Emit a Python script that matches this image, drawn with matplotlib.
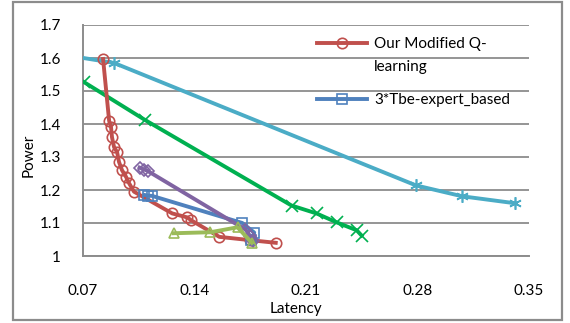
import matplotlib
matplotlib.use("Agg")
import matplotlib.pyplot as plt
from matplotlib.patches import Rectangle

plt.rcParams['font.family'] = ['Lato', 'DejaVu Sans']

# Our Modified Q-learning (red circles)
q_lat = [0.0826, 0.0864, 0.0876, 0.0882, 0.0895, 0.0914, 0.0926, 0.0945, 0.0970,
         0.0990, 0.1020, 0.1260, 0.1354, 0.1380, 0.1556, 0.1750, 0.1910]
q_pow = [1.597, 1.410, 1.390, 1.360, 1.330, 1.315, 1.285, 1.260, 1.240,
         1.220, 1.195, 1.129, 1.117, 1.108, 1.058, 1.048, 1.040]

# 3*Tbe-expert_based (blue squares)
tbe_lat = [0.1085, 0.1110, 0.1135, 0.1700, 0.1775, 0.1757]
tbe_pow = [1.185, 1.183, 1.182, 1.100, 1.071, 1.047]

# purple diamonds
pur_lat = [0.1055, 0.1085, 0.1105, 0.1720, 0.1750, 0.1770]
pur_pow = [1.268, 1.262, 1.258, 1.080, 1.060, 1.045]

# light green triangles
tri_lat = [0.127, 0.150, 0.167, 0.176]
tri_pow = [1.069, 1.072, 1.087, 1.040]

# green crosses
grn_lat = [0.0706, 0.109, 0.2009, 0.2166, 0.2292, 0.2418, 0.2449]
grn_pow = [1.527, 1.412, 1.153, 1.129, 1.102, 1.078, 1.062]

# cyan stars
cyn_lat = [0.060, 0.0895, 0.279, 0.308, 0.341]
cyn_pow = [1.608, 1.585, 1.214, 1.181, 1.160]

x_ticks = [0.07, 0.14, 0.21, 0.28, 0.35]
y_ticks = [1, 1.1, 1.2, 1.3, 1.4, 1.5, 1.6, 1.7]

W, H = 570, 323
fig = plt.figure(figsize=(W / 100, H / 100), dpi=100)
ax = fig.add_axes([83 / W, 1 - 256 / H, (529 - 83) / W, (256 - 25) / H])

lw = 2.8
ms = 7.5
mew = 1.2
star = (6, 2, 0)

ax.plot(cyn_lat, cyn_pow, color='#4BACC6', lw=lw, marker=star, ms=9, mew=mew, zorder=3)
ax.plot(grn_lat, grn_pow, color='#00B050', lw=lw, marker='x', ms=8.5, mew=mew, zorder=4)
red, = ax.plot(q_lat, q_pow, color='#C0504D', lw=lw, marker='o', ms=ms, mew=mew,
               mfc='none', zorder=5)
blue, = ax.plot(tbe_lat, tbe_pow, color='#4F81BD', lw=lw, marker='s', ms=ms, mew=mew,
                mfc='none', zorder=6)
ax.plot(pur_lat, pur_pow, color='#8064A2', lw=lw, marker='D', ms=6.5, mew=mew,
        mfc='none', zorder=7)
ax.plot(tri_lat, tri_pow, color='#9BBB59', lw=lw, marker='^', ms=ms, mew=mew,
        mfc='none', zorder=8)

ax.set_xlim(0.07, 0.35)
ax.set_ylim(1, 1.7)
ax.set_xticks(x_ticks)
ax.set_xticklabels(['%.2f' % v for v in x_ticks])
ax.set_yticks(y_ticks)
ax.set_yticklabels(['%g' % v for v in y_ticks])
ax.tick_params(length=0, labelsize=11, colors='black')
ax.tick_params(axis='x', pad=20)
ax.tick_params(axis='y', pad=16)

grid_c = '#8C8C8C'
ax.grid(axis='y', color=grid_c, lw=1.3)
ax.set_axisbelow(True)
for s in ['top', 'right']:
    ax.spines[s].set_visible(False)
for s in ['left', 'bottom']:
    ax.spines[s].set_color(grid_c)
    ax.spines[s].set_linewidth(1.4)
ax.set_facecolor('none')

ax.set_xlabel('Latency', fontsize=11)
ax.xaxis.set_label_coords((296 - 83) / (529 - 83), (256 - 309) / (256 - 25))
ax.xaxis.label.set_va('center')
ax.set_ylabel('Power', fontsize=11)
ax.yaxis.set_label_coords((29 - 83) / (529 - 83), (256 - 155) / (256 - 25))
ax.yaxis.label.set_va('center')

leg = ax.legend([red, blue], ['Our Modified Q-', '3*Tbe-expert_based'],
                loc='upper left', bbox_to_anchor=(317 / W, 1 - 37 / H),
                bbox_transform=fig.transFigure, frameon=False, fontsize=11,
                borderpad=0, borderaxespad=0, handlelength=3.3,
                handletextpad=0.45, labelspacing=2.75)

# second line of the first legend label
fig.canvas.draw()
bb = leg.get_texts()[0].get_window_extent()
fig.text(bb.x0 / W, (bb.y0 - 23) / H, 'learning', fontsize=11,
         ha='left', va='bottom')

fig.patches.append(Rectangle((13 / W, 1 - 320 / H), (562 - 13) / W, (320 - 2) / H,
                             transform=fig.transFigure, fill=False,
                             ec='#8C8C8C', lw=1.6))

fig.savefig('out.png', dpi=100)
